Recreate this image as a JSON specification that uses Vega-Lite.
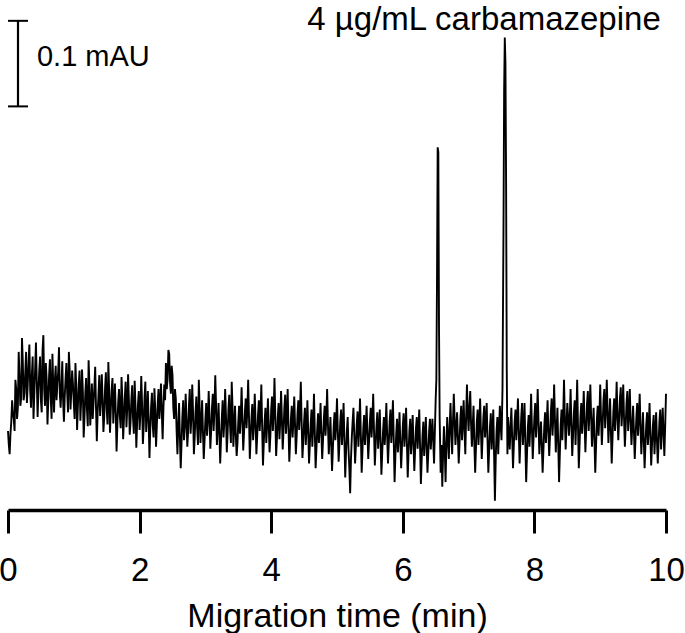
{
  "$schema": "https://vega.github.io/schema/vega-lite/v6.json",
  "autosize": {"type": "none"},
  "width": 658,
  "height": 510,
  "padding": {"left": 8, "top": 0, "right": 19, "bottom": 123},
  "background": "white",
  "config": {"view": {"stroke": null}, "font": "Liberation Sans"},
  "encoding": {
    "x": {"field": "t", "type": "quantitative",
      "scale": {"domain": [0, 10], "nice": false, "zero": false},
      "axis": {"title": "Migration time (min)", "values": [0, 2, 4, 6, 8, 10], "grid": false,
        "labelFont": "Liberation Sans", "labelFontSize": 33, "labelColor": "black", "labelPadding": 21, "labelFlush": false, "labelOverlap": false,
        "tickColor": "black", "tickWidth": 3, "tickSize": 23, "domainColor": "black", "domainWidth": 3.5,
        "titleFont": "Liberation Sans", "titleFontSize": 34, "titleFontWeight": "normal", "titleColor": "black", "titlePadding": 12}},
    "y": {"field": "a", "type": "quantitative", "scale": {"domain": [0, 0.5484], "nice": false, "zero": false}, "axis": null}
  },
  "layer": [
    {
      "data": {"values": [
{"t":0,"a":0.085},{"t":0.0125,"a":0.07},{"t":0.025,"a":0.06},{"t":0.0375,"a":0.082},{"t":0.05,"a":0.095},{"t":0.0625,"a":0.118},{"t":0.075,"a":0.105},{"t":0.0875,"a":0.098},{"t":0.1,"a":0.085},{"t":0.1125,"a":0.14},{"t":0.125,"a":0.13},{"t":0.1375,"a":0.098},{"t":0.15,"a":0.11},{"t":0.1625,"a":0.17},{"t":0.175,"a":0.145},{"t":0.1875,"a":0.112},{"t":0.2,"a":0.12},{"t":0.2125,"a":0.185},{"t":0.225,"a":0.16},{"t":0.2375,"a":0.118},{"t":0.25,"a":0.125},{"t":0.2625,"a":0.148},{"t":0.275,"a":0.17},{"t":0.2875,"a":0.115},{"t":0.3,"a":0.135},
{"t":0.3125,"a":0.16},{"t":0.325,"a":0.178},{"t":0.3375,"a":0.128},{"t":0.35,"a":0.11},{"t":0.3625,"a":0.145},{"t":0.375,"a":0.165},{"t":0.3875,"a":0.098},{"t":0.4,"a":0.125},{"t":0.4125,"a":0.152},{"t":0.425,"a":0.18},{"t":0.4375,"a":0.138},{"t":0.45,"a":0.1},{"t":0.4625,"a":0.128},{"t":0.475,"a":0.15},{"t":0.4875,"a":0.165},{"t":0.5,"a":0.118},{"t":0.5125,"a":0.105},{"t":0.525,"a":0.172},{"t":0.5375,"a":0.188},{"t":0.55,"a":0.13},{"t":0.5625,"a":0.112},{"t":0.575,"a":0.158},{"t":0.5875,"a":0.14},{"t":0.6,"a":0.092},{"t":0.6125,"a":0.118},{"t":0.625,"a":0.145},{"t":0.6375,"a":0.162},{"t":0.65,"a":0.12},{"t":0.6625,"a":0.098},{"t":0.675,"a":0.168},{"t":0.6875,"a":0.135},{"t":0.7,"a":0.105},{"t":0.7125,"a":0.14},{"t":0.725,"a":0.155},{"t":0.7375,"a":0.118},{"t":0.75,"a":0.135},{"t":0.7625,"a":0.148},{"t":0.775,"a":0.175},{"t":0.7875,"a":0.125},{"t":0.8,"a":0.11},{"t":0.8125,"a":0.132},{"t":0.825,"a":0.16},{"t":0.8375,"a":0.118},{"t":0.85,"a":0.095},{"t":0.8625,"a":0.122},{"t":0.875,"a":0.142},{"t":0.8875,"a":0.158},{"t":0.9,"a":0.125},{"t":0.9125,"a":0.105},{"t":0.925,"a":0.17},{"t":0.9375,"a":0.15},{"t":0.95,"a":0.108},{"t":0.9625,"a":0.128},{"t":0.975,"a":0.15},{"t":0.9875,"a":0.135},{"t":1.0,"a":0.115},
{"t":1.0125,"a":0.098},{"t":1.025,"a":0.158},{"t":1.0375,"a":0.132},{"t":1.05,"a":0.086},{"t":1.0625,"a":0.112},{"t":1.075,"a":0.136},{"t":1.0875,"a":0.15},{"t":1.1,"a":0.096},{"t":1.1125,"a":0.118},{"t":1.125,"a":0.151},{"t":1.1375,"a":0.128},{"t":1.15,"a":0.078},{"t":1.1625,"a":0.1},{"t":1.175,"a":0.126},{"t":1.1875,"a":0.142},{"t":1.2,"a":0.108},{"t":1.2125,"a":0.09},{"t":1.225,"a":0.161},{"t":1.2375,"a":0.135},{"t":1.25,"a":0.091},{"t":1.2625,"a":0.112},{"t":1.275,"a":0.136},{"t":1.2875,"a":0.098},{"t":1.3,"a":0.116},{"t":1.3125,"a":0.132},{"t":1.325,"a":0.154},{"t":1.3375,"a":0.11},{"t":1.35,"a":0.074},{"t":1.3625,"a":0.105},{"t":1.375,"a":0.124},{"t":1.3875,"a":0.145},{"t":1.4,"a":0.101},{"t":1.4125,"a":0.118},{"t":1.425,"a":0.146},{"t":1.4375,"a":0.12},{"t":1.45,"a":0.084},{"t":1.4625,"a":0.1},{"t":1.475,"a":0.131},{"t":1.4875,"a":0.148},{"t":1.5,"a":0.109},{"t":1.5125,"a":0.092},{"t":1.525,"a":0.159},{"t":1.5375,"a":0.128},{"t":1.55,"a":0.083},{"t":1.5625,"a":0.108},{"t":1.575,"a":0.129},{"t":1.5875,"a":0.142},{"t":1.6,"a":0.093},{"t":1.6125,"a":0.115},{"t":1.625,"a":0.136},{"t":1.6375,"a":0.105},{"t":1.65,"a":0.063},{"t":1.6625,"a":0.092},{"t":1.675,"a":0.116},{"t":1.6875,"a":0.13},{"t":1.7,"a":0.101},{"t":1.7125,"a":0.088},{"t":1.725,"a":0.143},{"t":1.7375,"a":0.12},{"t":1.75,"a":0.076},{"t":1.7625,"a":0.098},{"t":1.775,"a":0.121},{"t":1.7875,"a":0.138},{"t":1.8,"a":0.089},{"t":1.8125,"a":0.11},{"t":1.825,"a":0.146},{"t":1.8375,"a":0.118},{"t":1.85,"a":0.081},{"t":1.8625,"a":0.095},{"t":1.875,"a":0.119},{"t":1.8875,"a":0.134},{"t":1.9,"a":0.099},{"t":1.9125,"a":0.082},{"t":1.925,"a":0.139},{"t":1.9375,"a":0.112},{"t":1.95,"a":0.067},{"t":1.9625,"a":0.094},{"t":1.975,"a":0.113},{"t":1.9875,"a":0.128},{"t":2.0,"a":0.086},{"t":2.0125,"a":0.104},{"t":2.025,"a":0.144},{"t":2.0375,"a":0.115},{"t":2.05,"a":0.071},{"t":2.0625,"a":0.09},{"t":2.075,"a":0.121},{"t":2.0875,"a":0.138},{"t":2.1,"a":0.084},{"t":2.1125,"a":0.102},{"t":2.125,"a":0.128},{"t":2.1375,"a":0.096},{"t":2.15,"a":0.056},{"t":2.1625,"a":0.088},{"t":2.175,"a":0.111},{"t":2.1875,"a":0.126},{"t":2.2,"a":0.091},{"t":2.2125,"a":0.078},{"t":2.225,"a":0.131},{"t":2.2375,"a":0.108},{"t":2.25,"a":0.068},{"t":2.2625,"a":0.092},{"t":2.275,"a":0.114},{"t":2.2875,"a":0.13},{"t":2.3,"a":0.098},{"t":2.3125,"a":0.115},{"t":2.325,"a":0.136},{"t":2.3375,"a":0.105},{"t":2.35,"a":0.076},{"t":2.3625,"a":0.11},
{"t":2.375,"a":0.135},{"t":2.3875,"a":0.118},{"t":2.4,"a":0.158},{"t":2.4125,"a":0.13},{"t":2.425,"a":0.14},{"t":2.4375,"a":0.172},{"t":2.45,"a":0.168},{"t":2.4625,"a":0.138},{"t":2.475,"a":0.125},{"t":2.4875,"a":0.155},{"t":2.5,"a":0.145},{"t":2.5125,"a":0.11},{"t":2.525,"a":0.098},{"t":2.5375,"a":0.13},{"t":2.55,"a":0.12},{"t":2.5625,"a":0.085},
{"t":2.575,"a":0.06},{"t":2.5875,"a":0.092},{"t":2.6,"a":0.115},{"t":2.6125,"a":0.078},{"t":2.625,"a":0.045},{"t":2.6375,"a":0.072},{"t":2.65,"a":0.1},{"t":2.6625,"a":0.118},{"t":2.675,"a":0.075},{"t":2.6875,"a":0.09},{"t":2.7,"a":0.125},{"t":2.7125,"a":0.098},{"t":2.725,"a":0.068},{"t":2.7375,"a":0.085},{"t":2.75,"a":0.112},{"t":2.7625,"a":0.13},{"t":2.775,"a":0.082},{"t":2.7875,"a":0.1},{"t":2.8,"a":0.135},{"t":2.8125,"a":0.105},{"t":2.825,"a":0.06},{"t":2.8375,"a":0.078},{"t":2.85,"a":0.105},{"t":2.8625,"a":0.122},{"t":2.875,"a":0.088},{"t":2.8875,"a":0.07},{"t":2.9,"a":0.14},{"t":2.9125,"a":0.11},{"t":2.925,"a":0.072},{"t":2.9375,"a":0.092},{"t":2.95,"a":0.118},{"t":2.9625,"a":0.085},{"t":2.975,"a":0.055},{"t":2.9875,"a":0.075},{"t":3.0,"a":0.098},{"t":3.0125,"a":0.115},{"t":3.025,"a":0.08},{"t":3.0375,"a":0.096},{"t":3.05,"a":0.128},{"t":3.0625,"a":0.1},{"t":3.075,"a":0.066},{"t":3.0875,"a":0.085},{"t":3.1,"a":0.11},{"t":3.1125,"a":0.125},{"t":3.125,"a":0.085},{"t":3.1375,"a":0.108},{"t":3.15,"a":0.145},{"t":3.1625,"a":0.112},{"t":3.175,"a":0.07},{"t":3.1875,"a":0.09},{"t":3.2,"a":0.115},{"t":3.2125,"a":0.082},{"t":3.225,"a":0.05},{"t":3.2375,"a":0.076},{"t":3.25,"a":0.1},{"t":3.2625,"a":0.118},{"t":3.275,"a":0.078},{"t":3.2875,"a":0.095},{"t":3.3,"a":0.13},{"t":3.3125,"a":0.102},{"t":3.325,"a":0.062},{"t":3.3375,"a":0.082},{"t":3.35,"a":0.108},{"t":3.3625,"a":0.124},{"t":3.375,"a":0.09},{"t":3.3875,"a":0.072},{"t":3.4,"a":0.138},{"t":3.4125,"a":0.11},{"t":3.425,"a":0.068},{"t":3.4375,"a":0.09},{"t":3.45,"a":0.112},{"t":3.4625,"a":0.08},{"t":3.475,"a":0.058},{"t":3.4875,"a":0.072},{"t":3.5,"a":0.095},{"t":3.5125,"a":0.112},{"t":3.525,"a":0.082},{"t":3.5375,"a":0.1},{"t":3.55,"a":0.132},{"t":3.5625,"a":0.098},{"t":3.575,"a":0.064},{"t":3.5875,"a":0.084},{"t":3.6,"a":0.105},{"t":3.6125,"a":0.12},{"t":3.625,"a":0.088},{"t":3.6375,"a":0.108},{"t":3.65,"a":0.14},{"t":3.6625,"a":0.1},{"t":3.675,"a":0.055},{"t":3.6875,"a":0.078},{"t":3.7,"a":0.098},{"t":3.7125,"a":0.114},{"t":3.725,"a":0.075},{"t":3.7375,"a":0.092},{"t":3.75,"a":0.125},{"t":3.7625,"a":0.095},{"t":3.775,"a":0.06},{"t":3.7875,"a":0.08},{"t":3.8,"a":0.102},{"t":3.8125,"a":0.118},{"t":3.825,"a":0.085},{"t":3.8375,"a":0.104},{"t":3.85,"a":0.135},{"t":3.8625,"a":0.09},{"t":3.875,"a":0.048},{"t":3.8875,"a":0.072},{"t":3.9,"a":0.095},{"t":3.9125,"a":0.11},{"t":3.925,"a":0.072},{"t":3.9375,"a":0.09},{"t":3.95,"a":0.12},{"t":3.9625,"a":0.092},{"t":3.975,"a":0.062},{"t":3.9875,"a":0.08},{"t":4.0,"a":0.108},{"t":4.0125,"a":0.122},{"t":4.025,"a":0.085},{"t":4.0375,"a":0.105},{"t":4.05,"a":0.142},{"t":4.0625,"a":0.1},{"t":4.075,"a":0.058},{"t":4.0875,"a":0.078},{"t":4.1,"a":0.1},{"t":4.1125,"a":0.115},{"t":4.125,"a":0.076},{"t":4.1375,"a":0.095},{"t":4.15,"a":0.128},{"t":4.1625,"a":0.098},{"t":4.175,"a":0.065},{"t":4.1875,"a":0.085},{"t":4.2,"a":0.11},{"t":4.2125,"a":0.124},{"t":4.225,"a":0.082},{"t":4.2375,"a":0.1},{"t":4.25,"a":0.13},{"t":4.2625,"a":0.09},{"t":4.275,"a":0.052},{"t":4.2875,"a":0.075},{"t":4.3,"a":0.098},{"t":4.3125,"a":0.112},{"t":4.325,"a":0.078},{"t":4.3375,"a":0.095},{"t":4.35,"a":0.122},{"t":4.3625,"a":0.092},{"t":4.375,"a":0.06},{"t":4.3875,"a":0.08},{"t":4.4,"a":0.104},{"t":4.4125,"a":0.118},{"t":4.425,"a":0.086},{"t":4.4375,"a":0.105},{"t":4.45,"a":0.138},{"t":4.4625,"a":0.095},{"t":4.475,"a":0.056},{"t":4.4875,"a":0.075},
{"t":4.5,"a":0.095},{"t":4.5125,"a":0.11},{"t":4.525,"a":0.07},{"t":4.5375,"a":0.088},{"t":4.55,"a":0.118},{"t":4.5625,"a":0.085},{"t":4.575,"a":0.05},{"t":4.5875,"a":0.07},{"t":4.6,"a":0.092},{"t":4.6125,"a":0.108},{"t":4.625,"a":0.068},{"t":4.6375,"a":0.09},{"t":4.65,"a":0.125},{"t":4.6625,"a":0.085},{"t":4.675,"a":0.045},{"t":4.6875,"a":0.066},{"t":4.7,"a":0.088},{"t":4.7125,"a":0.104},{"t":4.725,"a":0.072},{"t":4.7375,"a":0.09},{"t":4.75,"a":0.115},{"t":4.7625,"a":0.082},{"t":4.775,"a":0.055},{"t":4.7875,"a":0.075},{"t":4.8,"a":0.098},{"t":4.8125,"a":0.112},{"t":4.825,"a":0.08},{"t":4.8375,"a":0.098},{"t":4.85,"a":0.13},{"t":4.8625,"a":0.092},{"t":4.875,"a":0.06},{"t":4.8875,"a":0.078},{"t":4.9,"a":0.1},{"t":4.9125,"a":0.07},{"t":4.925,"a":0.042},{"t":4.9375,"a":0.066},{"t":4.95,"a":0.09},{"t":4.9625,"a":0.105},{"t":4.975,"a":0.075},{"t":4.9875,"a":0.092},{"t":5.0,"a":0.12},{"t":5.0125,"a":0.085},{"t":5.025,"a":0.052},{"t":5.0375,"a":0.072},{"t":5.05,"a":0.095},{"t":5.0625,"a":0.108},{"t":5.075,"a":0.07},{"t":5.0875,"a":0.088},{"t":5.1,"a":0.115},{"t":5.1125,"a":0.075},{"t":5.125,"a":0.035},{"t":5.1375,"a":0.062},{"t":5.15,"a":0.085},{"t":5.1625,"a":0.1},{"t":5.175,"a":0.065},{"t":5.1875,"a":0.045},{"t":5.2,"a":0.018},{"t":5.2125,"a":0.055},{"t":5.225,"a":0.078},{"t":5.2375,"a":0.095},{"t":5.25,"a":0.11},{"t":5.2625,"a":0.08},{"t":5.275,"a":0.05},{"t":5.2875,"a":0.07},{"t":5.3,"a":0.092},{"t":5.3125,"a":0.106},{"t":5.325,"a":0.068},{"t":5.3375,"a":0.088},{"t":5.35,"a":0.12},{"t":5.3625,"a":0.08},{"t":5.375,"a":0.04},{"t":5.3875,"a":0.065},{"t":5.4,"a":0.088},{"t":5.4125,"a":0.102},{"t":5.425,"a":0.07},{"t":5.4375,"a":0.09},{"t":5.45,"a":0.112},{"t":5.4625,"a":0.082},{"t":5.475,"a":0.055},{"t":5.4875,"a":0.075},{"t":5.5,"a":0.095},{"t":5.5125,"a":0.11},{"t":5.525,"a":0.078},{"t":5.5375,"a":0.096},{"t":5.55,"a":0.125},{"t":5.5625,"a":0.085},{"t":5.575,"a":0.048},{"t":5.5875,"a":0.07},{"t":5.6,"a":0.09},{"t":5.6125,"a":0.105},{"t":5.625,"a":0.066},{"t":5.6375,"a":0.085},{"t":5.65,"a":0.108},{"t":5.6625,"a":0.072},{"t":5.675,"a":0.038},{"t":5.6875,"a":0.062},{"t":5.7,"a":0.085},{"t":5.7125,"a":0.1},{"t":5.725,"a":0.07},{"t":5.7375,"a":0.088},{"t":5.75,"a":0.115},{"t":5.7625,"a":0.08},{"t":5.775,"a":0.05},{"t":5.7875,"a":0.072},{"t":5.8,"a":0.095},{"t":5.8125,"a":0.108},{"t":5.825,"a":0.072},{"t":5.8375,"a":0.09},{"t":5.85,"a":0.118},{"t":5.8625,"a":0.075},{"t":5.875,"a":0.03},{"t":5.8875,"a":0.058},{"t":5.9,"a":0.082},{"t":5.9125,"a":0.098},{"t":5.925,"a":0.062},{"t":5.9375,"a":0.08},{"t":5.95,"a":0.105},{"t":5.9625,"a":0.072},{"t":5.975,"a":0.045},{"t":5.9875,"a":0.068},{"t":6.0,"a":0.09},{"t":6.0125,"a":0.104},{"t":6.025,"a":0.068},{"t":6.0375,"a":0.086},{"t":6.05,"a":0.11},{"t":6.0625,"a":0.072},{"t":6.075,"a":0.035},{"t":6.0875,"a":0.062},{"t":6.1,"a":0.085},{"t":6.1125,"a":0.098},{"t":6.125,"a":0.06},{"t":6.1375,"a":0.08},{"t":6.15,"a":0.102},{"t":6.1625,"a":0.07},{"t":6.175,"a":0.042},{"t":6.1875,"a":0.065},{"t":6.2,"a":0.088},{"t":6.2125,"a":0.1},{"t":6.225,"a":0.066},{"t":6.2375,"a":0.085},{"t":6.25,"a":0.108},{"t":6.2625,"a":0.068},{"t":6.275,"a":0.028},{"t":6.2875,"a":0.055},{"t":6.3,"a":0.08},{"t":6.3125,"a":0.095},{"t":6.325,"a":0.058},{"t":6.3375,"a":0.078},{"t":6.35,"a":0.1},{"t":6.3625,"a":0.068},{"t":6.375,"a":0.04},{"t":6.3875,"a":0.062},{"t":6.4,"a":0.085},{"t":6.4125,"a":0.098},{"t":6.425,"a":0.065},{"t":6.4375,"a":0.082},{"t":6.45,"a":0.098},{"t":6.4625,"a":0.075},{"t":6.475,"a":0.05},{"t":6.4875,"a":0.085},{"t":6.5,"a":0.12},
{"t":6.51,"a":0.14},{"t":6.52,"a":0.25},{"t":6.53,"a":0.39},{"t":6.54,"a":0.385},{"t":6.55,"a":0.2},{"t":6.56,"a":0.1},{"t":6.575,"a":0.04},{"t":6.5875,"a":0.07},{"t":6.6,"a":0.025},{"t":6.6125,"a":0.06},{"t":6.625,"a":0.09},{"t":6.6375,"a":0.065},{"t":6.65,"a":0.03},{"t":6.6625,"a":0.07},{"t":6.675,"a":0.1},
{"t":6.6875,"a":0.075},{"t":6.7,"a":0.055},{"t":6.7125,"a":0.09},{"t":6.725,"a":0.115},{"t":6.7375,"a":0.085},{"t":6.75,"a":0.06},{"t":6.7625,"a":0.095},{"t":6.775,"a":0.125},{"t":6.7875,"a":0.098},{"t":6.8,"a":0.07},{"t":6.8125,"a":0.088},{"t":6.825,"a":0.105},{"t":6.8375,"a":0.078},{"t":6.85,"a":0.05},{"t":6.8625,"a":0.072},{"t":6.875,"a":0.098},{"t":6.8875,"a":0.112},{"t":6.9,"a":0.075},{"t":6.9125,"a":0.095},{"t":6.925,"a":0.118},{"t":6.9375,"a":0.085},{"t":6.95,"a":0.06},{"t":6.9625,"a":0.1},{"t":6.975,"a":0.135},{"t":6.9875,"a":0.105},{"t":7.0,"a":0.085},{"t":7.0125,"a":0.11},{"t":7.025,"a":0.128},{"t":7.0375,"a":0.092},{"t":7.05,"a":0.068},{"t":7.0625,"a":0.09},{"t":7.075,"a":0.112},{"t":7.0875,"a":0.07},{"t":7.1,"a":0.04},{"t":7.1125,"a":0.068},{"t":7.125,"a":0.095},{"t":7.1375,"a":0.108},{"t":7.15,"a":0.07},{"t":7.1625,"a":0.09},{"t":7.175,"a":0.12},{"t":7.1875,"a":0.085},{"t":7.2,"a":0.055},{"t":7.2125,"a":0.078},{"t":7.225,"a":0.1},{"t":7.2375,"a":0.112},{"t":7.25,"a":0.078},{"t":7.2625,"a":0.095},{"t":7.275,"a":0.115},{"t":7.2875,"a":0.075},{"t":7.3,"a":0.04},{"t":7.3125,"a":0.065},{"t":7.325,"a":0.09},{"t":7.3375,"a":0.104},{"t":7.35,"a":0.065},{"t":7.3625,"a":0.085},{"t":7.375,"a":0.108},{"t":7.3875,"a":0.06},{"t":7.4,"a":0.01},{"t":7.4125,"a":0.055},{"t":7.425,"a":0.085},{"t":7.4375,"a":0.1},{"t":7.45,"a":0.06},{"t":7.4625,"a":0.085},{"t":7.475,"a":0.112},{"t":7.4875,"a":0.092},{"t":7.5,"a":0.075},{"t":7.5075,"a":0.1},{"t":7.515,"a":0.13},
{"t":7.53,"a":0.3},{"t":7.54,"a":0.45},{"t":7.55,"a":0.508},{"t":7.56,"a":0.48},{"t":7.57,"a":0.35},{"t":7.58,"a":0.15},{"t":7.59,"a":0.06},{"t":7.6,"a":0.1},
{"t":7.6125,"a":0.085},{"t":7.625,"a":0.065},{"t":7.6375,"a":0.088},{"t":7.65,"a":0.11},{"t":7.6625,"a":0.078},{"t":7.675,"a":0.045},{"t":7.6875,"a":0.07},{"t":7.7,"a":0.095},{"t":7.7125,"a":0.108},{"t":7.725,"a":0.075},{"t":7.7375,"a":0.095},{"t":7.75,"a":0.12},{"t":7.7625,"a":0.085},{"t":7.775,"a":0.05},{"t":7.7875,"a":0.075},{"t":7.8,"a":0.1},{"t":7.8125,"a":0.115},{"t":7.825,"a":0.07},{"t":7.8375,"a":0.09},{"t":7.85,"a":0.115},{"t":7.8625,"a":0.072},{"t":7.875,"a":0.03},{"t":7.8875,"a":0.06},{"t":7.9,"a":0.088},{"t":7.9125,"a":0.102},{"t":7.925,"a":0.068},{"t":7.9375,"a":0.09},{"t":7.95,"a":0.125},{"t":7.9625,"a":0.088},{"t":7.975,"a":0.055},{"t":7.9875,"a":0.078},{"t":8.0,"a":0.1},{"t":8.0125,"a":0.115},{"t":8.025,"a":0.078},{"t":8.0375,"a":0.098},{"t":8.05,"a":0.13},{"t":8.0625,"a":0.095},{"t":8.075,"a":0.06},{"t":8.0875,"a":0.08},{"t":8.1,"a":0.095},{"t":8.1125,"a":0.07},{"t":8.125,"a":0.04},{"t":8.1375,"a":0.065},{"t":8.15,"a":0.09},{"t":8.1625,"a":0.105},{"t":8.175,"a":0.072},{"t":8.1875,"a":0.092},{"t":8.2,"a":0.118},{"t":8.2125,"a":0.085},{"t":8.225,"a":0.058},{"t":8.2375,"a":0.08},{"t":8.25,"a":0.105},{"t":8.2625,"a":0.12},{"t":8.275,"a":0.08},{"t":8.2875,"a":0.1},{"t":8.3,"a":0.135},{"t":8.3125,"a":0.098},{"t":8.325,"a":0.062},{"t":8.3375,"a":0.085},{"t":8.35,"a":0.11},{"t":8.3625,"a":0.07},{"t":8.375,"a":0.03},{"t":8.3875,"a":0.062},{"t":8.4,"a":0.092},{"t":8.4125,"a":0.108},{"t":8.425,"a":0.075},{"t":8.4375,"a":0.1},{"t":8.45,"a":0.14},{"t":8.4625,"a":0.1},{"t":8.475,"a":0.065},{"t":8.4875,"a":0.09},{"t":8.5,"a":0.115},{"t":8.5125,"a":0.1},{"t":8.525,"a":0.08},{"t":8.5375,"a":0.098},{"t":8.55,"a":0.13},{"t":8.5625,"a":0.092},{"t":8.575,"a":0.058},{"t":8.5875,"a":0.08},{"t":8.6,"a":0.105},{"t":8.6125,"a":0.118},{"t":8.625,"a":0.07},{"t":8.6375,"a":0.1},{"t":8.65,"a":0.14},{"t":8.6625,"a":0.09},{"t":8.675,"a":0.045},{"t":8.6875,"a":0.072},{"t":8.7,"a":0.1},{"t":8.7125,"a":0.115},{"t":8.725,"a":0.082},{"t":8.7375,"a":0.1},{"t":8.75,"a":0.128},{"t":8.7625,"a":0.095},{"t":8.775,"a":0.062},{"t":8.7875,"a":0.088},{"t":8.8,"a":0.115},{"t":8.8125,"a":0.128},{"t":8.825,"a":0.085},{"t":8.8375,"a":0.105},{"t":8.85,"a":0.135},{"t":8.8625,"a":0.1},{"t":8.875,"a":0.068},{"t":8.8875,"a":0.09},{"t":8.9,"a":0.11},{"t":8.9125,"a":0.075},{"t":8.925,"a":0.04},{"t":8.9375,"a":0.07},{"t":8.95,"a":0.098},{"t":8.9625,"a":0.112},{"t":8.975,"a":0.08},{"t":8.9875,"a":0.1},{"t":9.0,"a":0.135},{"t":9.0125,"a":0.1},{"t":9.025,"a":0.07},{"t":9.0375,"a":0.092},{"t":9.05,"a":0.118},{"t":9.0625,"a":0.13},{"t":9.075,"a":0.088},{"t":9.0875,"a":0.108},{"t":9.1,"a":0.14},{"t":9.1125,"a":0.105},{"t":9.125,"a":0.072},{"t":9.1375,"a":0.095},{"t":9.15,"a":0.12},{"t":9.1625,"a":0.085},{"t":9.175,"a":0.05},{"t":9.1875,"a":0.078},{"t":9.2,"a":0.105},{"t":9.2125,"a":0.12},{"t":9.225,"a":0.085},{"t":9.2375,"a":0.105},{"t":9.25,"a":0.138},{"t":9.2625,"a":0.1},{"t":9.275,"a":0.075},{"t":9.2875,"a":0.098},{"t":9.3,"a":0.12},{"t":9.3125,"a":0.132},{"t":9.325,"a":0.09},{"t":9.3375,"a":0.11},{"t":9.35,"a":0.135},{"t":9.3625,"a":0.098},{"t":9.375,"a":0.068},{"t":9.3875,"a":0.09},{"t":9.4,"a":0.115},{"t":9.4125,"a":0.128},{"t":9.425,"a":0.085},{"t":9.4375,"a":0.105},{"t":9.45,"a":0.13},{"t":9.4625,"a":0.095},{"t":9.475,"a":0.07},{"t":9.4875,"a":0.09},{"t":9.5,"a":0.112},{"t":9.5125,"a":0.085},{"t":9.525,"a":0.055},{"t":9.5375,"a":0.078},{"t":9.55,"a":0.1},{"t":9.5625,"a":0.115},{"t":9.575,"a":0.08},{"t":9.5875,"a":0.1},{"t":9.6,"a":0.125},{"t":9.6125,"a":0.09},{"t":9.625,"a":0.06},{"t":9.6375,"a":0.082},{"t":9.65,"a":0.105},{"t":9.6625,"a":0.075},{"t":9.675,"a":0.045},{"t":9.6875,"a":0.07},{"t":9.7,"a":0.092},{"t":9.7125,"a":0.105},{"t":9.725,"a":0.07},{"t":9.7375,"a":0.09},{"t":9.75,"a":0.115},{"t":9.7625,"a":0.08},{"t":9.775,"a":0.048},{"t":9.7875,"a":0.07},{"t":9.8,"a":0.09},{"t":9.8125,"a":0.102},{"t":9.825,"a":0.06},{"t":9.8375,"a":0.082},{"t":9.85,"a":0.105},{"t":9.8625,"a":0.075},{"t":9.875,"a":0.05},{"t":9.8875,"a":0.072},{"t":9.9,"a":0.095},{"t":9.9125,"a":0.108},{"t":9.925,"a":0.065},{"t":9.9375,"a":0.088},{"t":9.95,"a":0.11},{"t":9.9625,"a":0.082},{"t":9.975,"a":0.058},{"t":9.9875,"a":0.09},{"t":10.0,"a":0.125}
      ]},
      "mark": {"type": "line", "color": "black", "strokeWidth": 1.9, "strokeMiterLimit": 2}
    },
    {
      "data": {"values": [{"t": 0.152, "a": 0.434, "a2": 0.526}]},
      "mark": {"type": "rule", "color": "black", "strokeWidth": 2.2},
      "encoding": {"y2": {"field": "a2"}}
    },
    {
      "data": {"values": [{"t": 0.0, "t2": 0.304, "a": 0.434}, {"t": 0.0, "t2": 0.304, "a": 0.526}]},
      "mark": {"type": "rule", "color": "black", "strokeWidth": 2},
      "encoding": {"x2": {"field": "t2"}}
    },
    {
      "data": {"values": [{"t": 0.44, "a": 0.4774, "label": "0.1 mAU"}]},
      "mark": {"type": "text", "align": "left", "baseline": "alphabetic", "fontSize": 29, "font": "Liberation Sans", "color": "black"},
      "encoding": {"text": {"field": "label"}}
    },
    {
      "data": {"values": [{"t": 7.234, "a": 0.516, "label": "4 µg/mL carbamazepine"}]},
      "mark": {"type": "text", "align": "center", "baseline": "alphabetic", "fontSize": 33, "font": "Liberation Sans", "color": "black"},
      "encoding": {"text": {"field": "label"}}
    }
  ]
}
